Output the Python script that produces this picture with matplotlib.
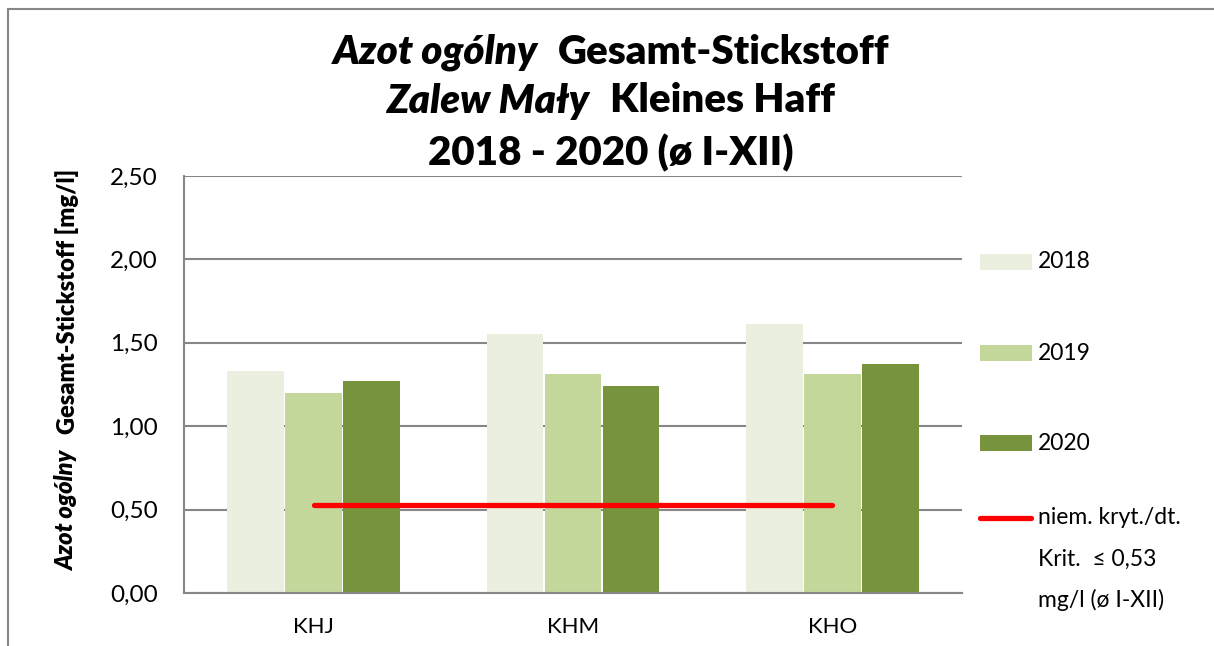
import matplotlib.pyplot as plt
import numpy as np
from matplotlib.lines import Line2D
from matplotlib.patches import Rectangle

plt.rcParams['font.family'] = ['Lato', 'DejaVu Sans']

stations = ['KHJ', 'KHM', 'KHO']
years = ['2018', '2019', '2020']
val_2018 = [1.33, 1.55, 1.61]
val_2019 = [1.20, 1.31, 1.31]
val_2020 = [1.27, 1.24, 1.37]
limit = 0.53
limit_label = ['niem. kryt./dt.', 'Krit.  \u2264 0,53', 'mg/l (\u00f8 I-XII)']
colors = ['#EBEFDF', '#C4D79B', '#77933C']
grid_col = '#868686'

W, H = 1214, 646
fig = plt.figure(figsize=(W / 100, H / 100), dpi=100)
ax = fig.add_axes([184 / W, 1 - 593 / H, (962 - 184) / W, (593 - 176) / H])

x = np.arange(len(stations))
bw = 0.218
step = 0.224
for i, vals in enumerate([val_2018, val_2019, val_2020]):
    ax.bar(x + (i - 1) * step, vals, bw, color=colors[i], edgecolor='none', zorder=2)

ax.plot([x[0], x[-1]], [limit, limit], color='#FF0000', lw=3.8,
        solid_capstyle='round', zorder=3)

ax.set_xlim(-0.5, 2.5)
ax.set_ylim(0, 2.5)
yt = np.arange(0, 2.51, 0.5)
ax.set_yticks(yt)
ax.set_yticklabels([f'{v:.2f}'.replace('.', ',') for v in yt], fontsize=17.5)
ax.set_xticks(x)
ax.set_xticklabels(stations, fontsize=16)
ax.tick_params(axis='y', length=0, pad=19)
ax.tick_params(axis='x', length=0, pad=17)
ax.yaxis.grid(True, color=grid_col, lw=1.5, zorder=1)
ax.set_axisbelow(True)
for s in ['top', 'right']:
    ax.spines[s].set_visible(False)
for s in ['left', 'bottom']:
    ax.spines[s].set_color(grid_col)
    ax.spines[s].set_linewidth(1.5)

# outer frame (only top and left visible in the crop)
fig.add_artist(Line2D([8 / W, 8 / W], [0, 1 - 9 / H], color=grid_col, lw=1.5))
fig.add_artist(Line2D([8 / W, 1], [1 - 9 / H, 1 - 9 / H], color=grid_col, lw=1.5))

renderer = fig.canvas.get_renderer()


def mixed_line(parts, cx, cy, size, gap=18, rotation=0):
    texts = []
    for txt, style in parts:
        t = fig.text(0, 0, txt, fontsize=size, fontweight='heavy', fontstyle=style,
                     rotation=rotation, ha='left', va='center')
        texts.append(t)
    ext = [t.get_window_extent(renderer) for t in texts]
    if rotation == 0:
        total = sum(e.width for e in ext) + gap * (len(texts) - 1)
        pos = cx - total / 2
        for t, e in zip(texts, ext):
            t.set_position((pos / W, 1 - cy / H))
            pos += e.width + gap
    else:
        total = sum(e.height for e in ext) + gap * (len(texts) - 1)
        pos = cy + total / 2
        for t, e in zip(texts, ext):
            t.set_va('bottom')
            t.set_ha('center')
            t.set_position((cx / W, 1 - pos / H))
            pos -= e.height + gap


mixed_line([('Azot og\u00f3lny', 'italic'), ('Gesamt-Stickstoff', 'normal')], 611, 52, 29, gap=20)
mixed_line([('Zalew Ma\u0142y', 'italic'), ('Kleines Haff', 'normal')], 611, 101, 29, gap=20)
mixed_line([('2018 - 2020 (\u00f8 I-XII)', 'normal')], 611, 153, 29)
mixed_line([('Azot og\u00f3lny', 'italic'), ('Gesamt-Stickstoff [mg/l]', 'normal')],
           67, 370, 17, gap=16, rotation=90)

# legend on the right
leg_y = [262, 353, 443]
for yy, col, lab in zip(leg_y, colors, years):
    fig.add_artist(Rectangle((980 / W, 1 - (yy + 8) / H), 52 / W, 16 / H,
                             facecolor=col, edgecolor='none', transform=fig.transFigure))
    fig.text(1038 / W, 1 - yy / H, lab, fontsize=16.5, va='center', ha='left')
fig.add_artist(Line2D([980 / W, 1031 / W], [1 - 518 / H, 1 - 518 / H], color='#FF0000',
                      lw=3.8, solid_capstyle='round'))
for k, line in enumerate(limit_label):
    fig.text(1038 / W, 1 - (518 + 41 * k) / H, line, fontsize=16.5, va='center', ha='left')

fig.savefig('out.png', dpi=100)
